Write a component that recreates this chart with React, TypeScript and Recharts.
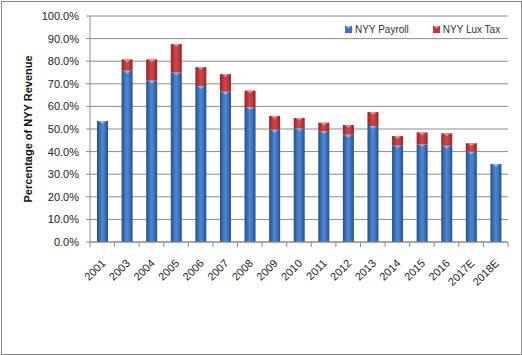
import React from "react";
import { BarChart, Bar, XAxis, YAxis, CartesianGrid, Legend } from "recharts";

const years = ["2001", "2003", "2004", "2005", "2006", "2007", "2008", "2009", "2010", "2011", "2012", "2013", "2014", "2015", "2016", "2017E", "2018E"];
const payroll = [53.5, 75.8, 71.5, 75.0, 69.0, 66.5, 59.7, 49.7, 50.3, 49.1, 47.5, 51.3, 42.8, 43.2, 42.6, 40.0, 34.5];
const luxTax = [0, 5.0, 9.3, 12.6, 8.4, 7.8, 7.3, 6.1, 4.6, 3.7, 4.3, 6.2, 4.1, 5.3, 5.5, 3.7, 0];
const yTicks = [0, 10, 20, 30, 40, 50, 60, 70, 80, 90, 100];

const data = years.map((year, i) => ({ year, payroll: payroll[i], luxTax: luxTax[i] }));

const FONT = "'Liberation Sans', Arial, sans-serif";
const GRID = "#8c8c8c";

const BevelBar = (props: any) => {
  const { x, y, width, height, fill, light } = props;
  if (!height || height <= 0) return null;
  const inset = 2;
  const tri = Math.min(3, height);
  return (
    <g>
      <rect x={x} y={y} width={width} height={height} fill={fill} />
      <polygon
        points={`${x + inset},${y} ${x + width - inset},${y} ${x + width / 2},${y + tri}`}
        fill={light}
        opacity={0.8}
      />
    </g>
  );
};

const YearTick = (props: any) => {
  const { x, y, payload, index } = props;
  const off = payload.offset || 0;
  const ax = x + 4;
  const ay = y + 14;
  return (
    <g>
      <line x1={x - off} y1={y - 8} x2={x - off} y2={y - 3} stroke={GRID} />
      {index === years.length - 1 && (
        <line x1={x + off} y1={y - 8} x2={x + off} y2={y - 3} stroke={GRID} />
      )}
      <text
        x={ax}
        y={ay}
        textAnchor="end"
        transform={`rotate(-45, ${ax}, ${ay})`}
        fontSize={11}
        fontFamily={FONT}
        fill="#222"
      >
        {payload.value}
      </text>
    </g>
  );
};

const LegendContent = () => {
  const items = [
    { name: "NYY Payroll", id: "blueGrad" },
    { name: "NYY Lux Tax", id: "redGrad" },
  ];
  return (
    <div style={{ display: "flex", fontFamily: FONT, fontSize: 10, color: "#333" }}>
      {items.map((it, i) => (
        <div key={it.name} style={{ display: "flex", alignItems: "center", marginRight: i === 0 ? 24 : 0 }}>
          <svg width={7} height={7} style={{ marginRight: 3 }}>
            <rect width={7} height={7} fill={i === 0 ? "#3a72bd" : "#c0393b"} />
            <polygon points="1,0 6,0 3.5,2.5" fill={i === 0 ? "#9cc4f0" : "#f0a0a0"} />
          </svg>
          <span>{it.name}</span>
        </div>
      ))}
    </div>
  );
};

export default function App() {
  return (
    <div style={{ position: "absolute", left: 0, top: 0, width: 522, height: 355, background: "#fff" }}>
      <div
        style={{
          position: "absolute",
          left: 1,
          top: 1,
          width: 519,
          height: 352,
          border: "1px solid #8a8a8a",
        }}
      />
      <BarChart
        width={522}
        height={355}
        data={data}
        margin={{ top: 16, right: 14, bottom: 73, left: 0 }}
        barSize={11}
      >
        <defs>
          <linearGradient id="blueGrad" x1="0" y1="0" x2="1" y2="0">
            <stop offset="0%" stopColor="#234f8c" />
            <stop offset="45%" stopColor="#4a86d2" />
            <stop offset="60%" stopColor="#4681ce" />
            <stop offset="100%" stopColor="#22508f" />
          </linearGradient>
          <linearGradient id="redGrad" x1="0" y1="0" x2="1" y2="0">
            <stop offset="0%" stopColor="#962327" />
            <stop offset="45%" stopColor="#d04548" />
            <stop offset="60%" stopColor="#cc4244" />
            <stop offset="100%" stopColor="#952428" />
          </linearGradient>
        </defs>
        <CartesianGrid vertical={false} stroke={GRID} strokeWidth={1} />
        <XAxis
          dataKey="year"
          interval={0}
          height={40}
          axisLine={{ stroke: GRID }}
          tickLine={false}
          tick={<YearTick />}
        />
        <YAxis
          width={90}
          domain={[0, 100]}
          ticks={yTicks}
          interval={0}
          tickFormatter={(v: number) => v.toFixed(1) + "%"}
          axisLine={{ stroke: GRID }}
          tickLine={{ stroke: GRID }}
          tickSize={4}
          tick={{ fontSize: 11, fontFamily: FONT, fill: "#222", dx: -5 }}
          label={{
            value: "Percentage of NYY Revenue",
            angle: -90,
            position: "insideLeft",
            offset: 28,
            style: { fontSize: 11, fontWeight: "bold", fontFamily: FONT, fill: "#111", textAnchor: "middle" },
          }}
        />
        <Legend
          verticalAlign="middle"
          align="center"
          layout="horizontal"
          content={<LegendContent />}
          wrapperStyle={{ top: 24, left: 345, width: "auto" }}
        />
        <Bar
          dataKey="payroll"
          name="NYY Payroll"
          stackId="a"
          fill="url(#blueGrad)"
          isAnimationActive={false}
          shape={(p: any) => <BevelBar {...p} fill="url(#blueGrad)" light="#9cc4f0" />}
        />
        <Bar
          dataKey="luxTax"
          name="NYY Lux Tax"
          stackId="a"
          fill="url(#redGrad)"
          isAnimationActive={false}
          shape={(p: any) => <BevelBar {...p} fill="url(#redGrad)" light="#f0a0a0" />}
        />
      </BarChart>
    </div>
  );
}
